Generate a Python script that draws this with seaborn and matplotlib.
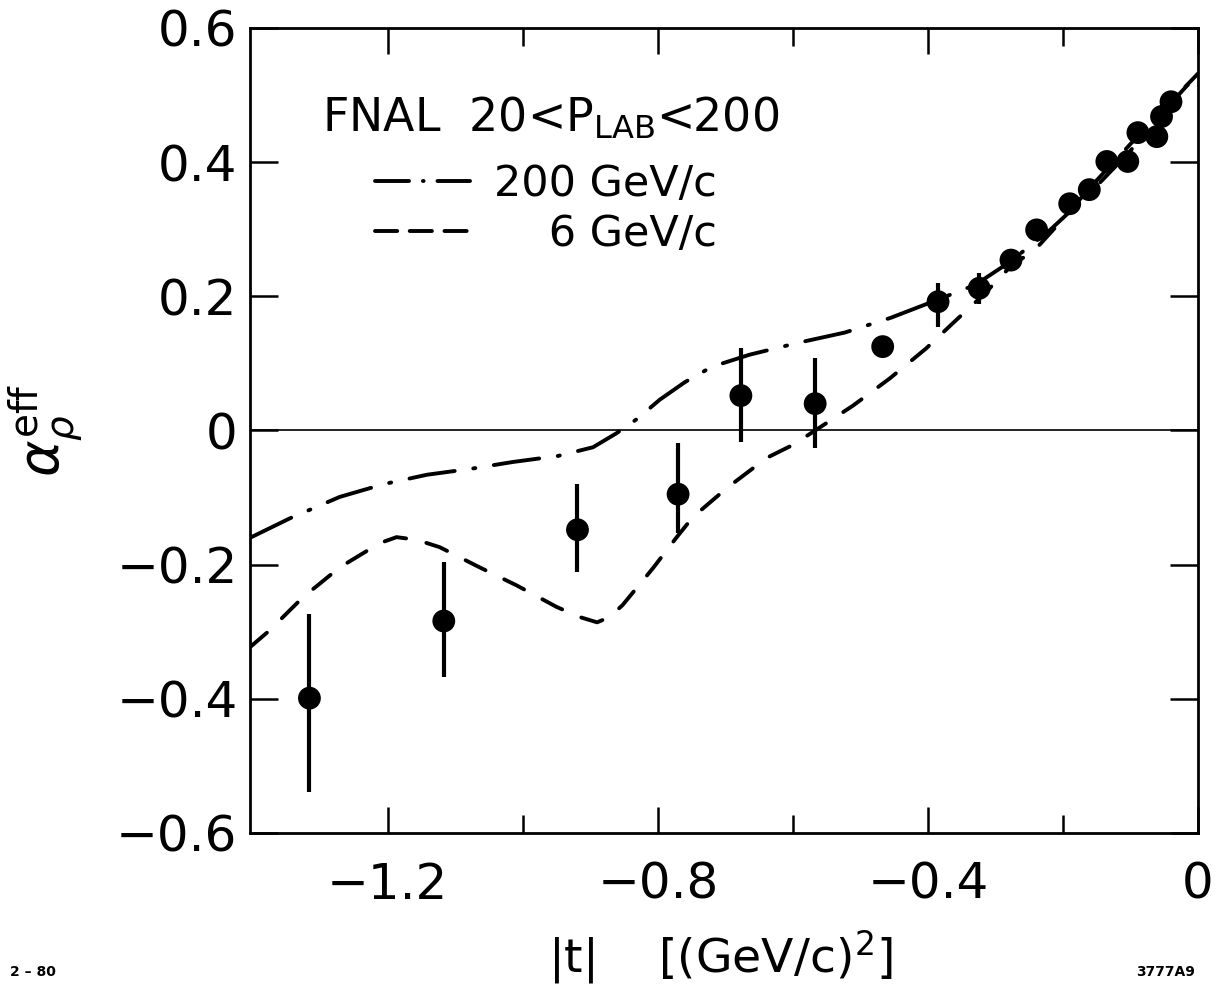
import matplotlib
matplotlib.use("Agg")
import matplotlib.pyplot as plt
import seaborn as sns
from matplotlib.lines import Line2D

# measured points (x drawn as -|t|, (GeV/c)^2)
t_pts = [-1.316, -1.117, -0.919, -0.770, -0.677, -0.567, -0.467, -0.385, -0.324,
         -0.277, -0.239, -0.190, -0.161, -0.135, -0.104, -0.089, -0.061, -0.054, -0.040]
alpha_pts = [-0.399, -0.284, -0.148, -0.095, 0.052, 0.040, 0.125, 0.192, 0.212,
             0.254, 0.299, 0.338, 0.359, 0.401, 0.401, 0.444, 0.438, 0.468, 0.490]
err_hi = [0.125, 0.088, 0.068, 0.076, 0.071, 0.068, 0.0, 0.028, 0.023,
          0.0, 0.0, 0.0, 0.0, 0.0, 0.0, 0.0, 0.0, 0.0, 0.0]
err_lo = [0.140, 0.084, 0.063, 0.058, 0.069, 0.066, 0.0, 0.038, 0.023,
          0.0, 0.0, 0.0, 0.0, 0.0, 0.0, 0.0, 0.0, 0.0, 0.0]

# 200 GeV/c prediction (dash-dot)
t_200 = [-1.404, -1.345, -1.271, -1.206, -1.142, -1.076, -1.015, -0.948, -0.896,
         -0.861, -0.831, -0.797, -0.760, -0.720, -0.664, -0.591, -0.523, -0.455,
         -0.393, -0.330, -0.279, -0.219, -0.160, -0.101, -0.049, 0.0]
alpha_200 = [-0.160, -0.131, -0.099, -0.080, -0.066, -0.057, -0.047, -0.038, -0.025,
             -0.004, 0.017, 0.046, 0.072, 0.095, 0.113, 0.131, 0.146, 0.168,
             0.192, 0.217, 0.251, 0.299, 0.354, 0.416, 0.478, 0.532]

# 6 GeV/c prediction (dashed)
t_6 = [-1.404, -1.375, -1.326, -1.271, -1.212, -1.187, -1.157, -1.123, -1.064,
       -1.009, -0.950, -0.916, -0.890, -0.871, -0.852, -0.834, -0.807, -0.772,
       -0.748, -0.698, -0.639, -0.601, -0.570, -0.511, -0.456, -0.403, -0.363,
       -0.319, -0.279, -0.239, -0.201, -0.160, -0.101, -0.049, 0.0]
alpha_6 = [-0.323, -0.298, -0.249, -0.204, -0.168, -0.159, -0.163, -0.174, -0.204,
           -0.231, -0.263, -0.278, -0.286, -0.278, -0.260, -0.238, -0.205, -0.159,
           -0.129, -0.086, -0.041, -0.022, -0.002, 0.037, 0.078, 0.122, 0.160,
           0.201, 0.243, 0.272, 0.314, 0.362, 0.426, 0.481, 0.532]

x_ticks = [-1.2, -0.8, -0.4, 0.0]
x_tick_labels = ["\u22121.2", "\u22120.8", "\u22120.4", "0"]
x_minor = [-1.0, -0.6, -0.2]
y_ticks = [-0.6, -0.4, -0.2, 0.0, 0.2, 0.4, 0.6]
y_tick_labels = ["\u22120.6", "\u22120.4", "\u22120.2", "0", "0.2", "0.4", "0.6"]

DASHDOT = (0, (33, 13.5, 1.5, 13.5))
DASHED = (0, (16, 15))


def main():
    sns.set_theme(style="ticks", rc={
        "text.color": "black", "axes.labelcolor": "black",
        "xtick.color": "black", "ytick.color": "black",
        "axes.edgecolor": "black",
    })
    plt.rcParams["font.family"] = ["DejaVu Sans"]
    plt.rcParams["lines.scale_dashes"] = False

    fig = plt.figure(figsize=(12.16, 9.92), dpi=100)
    ax = fig.add_axes([0.2056, 0.1603, 0.7796, 0.8115])

    ax.axhline(0, color="black", lw=1.2, zorder=1)

    sns.lineplot(x=t_200, y=alpha_200, ax=ax, color="black", lw=2.8,
                 estimator=None, sort=False, linestyle=DASHDOT,
                 dash_capstyle="round", zorder=2)
    sns.lineplot(x=t_6, y=alpha_6, ax=ax, color="black", lw=2.8,
                 estimator=None, sort=False, linestyle=DASHED,
                 dash_capstyle="round", zorder=2)

    ax.errorbar(t_pts, alpha_pts, yerr=[err_lo, err_hi], fmt="none",
                ecolor="black", elinewidth=3, capsize=0, zorder=3)
    sns.scatterplot(x=t_pts, y=alpha_pts, ax=ax, color="black", s=270,
                    edgecolor="none", zorder=4)

    ax.set_xlim(-1.404, 0.0)
    ax.set_ylim(-0.6, 0.6)

    ax.set_xticks(x_ticks, x_tick_labels)
    ax.set_xticks(x_minor, minor=True)
    ax.set_yticks(y_ticks, y_tick_labels)
    ax.tick_params(axis="x", which="major", direction="in", length=19, width=1.8,
                   top=True, bottom=True, pad=20, labelsize=36)
    ax.tick_params(axis="x", which="minor", direction="in", length=13, width=1.8,
                   top=True, bottom=True)
    ax.tick_params(axis="y", which="major", direction="in", length=20, width=1.8,
                   left=True, right=True, pad=9, labelsize=36)
    for sp in ax.spines.values():
        sp.set_linewidth(2)
        sp.set_color("black")

    ax.set_xlabel(r"|t|    [(GeV/c)$^2$]", fontsize=34)
    ax.xaxis.set_label_coords(0.496, -0.118)
    ax.set_ylabel(r"$\alpha_{\rho}^{\mathrm{eff}}$", fontsize=40)
    ax.yaxis.set_label_coords(-0.174, 0.5)

    ax.text(0.076, 0.871, r"FNAL  20<P$_{\mathrm{LAB}}$<200", transform=ax.transAxes,
            fontsize=33, va="baseline")

    handles = [
        Line2D([], [], color="black", lw=2.8, linestyle=(0, (24.5, 10, 0.5, 10)),
               dash_capstyle="round"),
        Line2D([], [], color="black", lw=2.8, linestyle=(0, (16, 9)),
               dash_capstyle="round"),
    ]
    labels = ["200 GeV/c", "\u2007\u20076 GeV/c"]
    ax.legend(handles, labels, loc="upper left", bbox_to_anchor=(0.132, 0.8325),
              frameon=False, borderpad=0, borderaxespad=0, handlelength=2.2,
              handletextpad=0.55, labelspacing=0.19, fontsize=31)

    fig.text(0.008, 0.016, "2 \u2013 80", fontsize=10, fontweight="bold")
    fig.text(0.983, 0.016, "3777A9", fontsize=10, fontweight="bold", ha="right")

    fig.savefig("out.png", dpi=100)


if __name__ == "__main__":
    main()
